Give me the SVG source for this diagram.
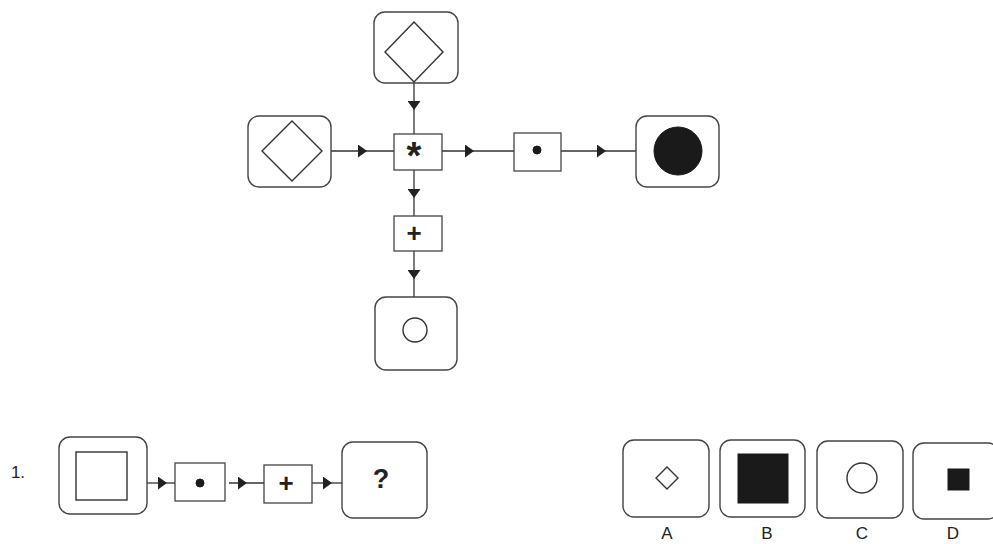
<svg xmlns="http://www.w3.org/2000/svg" width="993" height="544" viewBox="0 0 993 544">
<defs>
<marker id="ah" viewBox="0 0 9 13" refX="9" refY="6.5" markerUnits="userSpaceOnUse" markerWidth="9" markerHeight="13" orient="auto">
<path d="M0,0 L9,6.5 L0,13 z" fill="#222"/>
</marker>
<style>
.rb{fill:#fff;stroke:#444;stroke-width:1.4}
.op{fill:#fff;stroke:#444;stroke-width:1.3}
.sh{fill:none;stroke:#333;stroke-width:1.4}
.fl{fill:#1a1a1a;stroke:#1a1a1a}
.cn{fill:none;stroke:#333;stroke-width:1.3;marker-mid:url(#ah)}
.sym{font-family:"Liberation Sans",Arial,sans-serif;font-weight:bold;fill:#222;text-anchor:middle}
.lb{font-family:"Liberation Sans",Arial,sans-serif;font-size:17px;fill:#222;text-anchor:middle}
</style>
</defs>
<rect width="993" height="544" fill="#fff"/>
<g id="connectors">
<path class="cn" d="M331,151 L367,151 L394,151"/>
<path class="cn" d="M442,151 L474,151 L514,151"/>
<path class="cn" d="M561,151 L606,151 L636,151"/>
<path class="cn" d="M414,83 L414,110 L414,134"/>
<path class="cn" d="M414,170 L414,198 L414,216"/>
<path class="cn" d="M414,251 L414,279 L414,297"/>
<path class="cn" d="M147,483 L167,483 L175,483"/>
<path class="cn" d="M229,483 L247,483 L264,483"/>
<path class="cn" d="M312,483 L332,483 L342,483"/>
</g>
<g id="top-diamond">
<rect class="rb" x="374" y="12" width="84" height="71" rx="11"/>
<polygon class="sh" points="414,22 443,52 414,82 385,52"/>
</g>
<g id="left-diamond">
<rect class="rb" x="248" y="116" width="83" height="71" rx="11"/>
<polygon class="sh" points="292,121 322,151 292,181 262,151"/>
</g>
<g id="op-star">
<rect class="op" x="394" y="134" width="48" height="36"/>
<text class="sym" x="414" y="169" font-size="38">*</text>
</g>
<g id="op-dot">
<rect class="op" x="514" y="133" width="47" height="38"/>
<circle cx="537" cy="150" r="4" class="fl"/>
</g>
<g id="filled-circle">
<rect class="rb" x="636" y="116" width="83" height="71" rx="11"/>
<circle cx="678" cy="151" r="24" class="fl"/>
</g>
<g id="op-plus">
<rect class="op" x="394" y="216" width="48" height="35"/>
<text class="sym" x="414" y="242" font-size="26">+</text>
</g>
<g id="bottom-circle">
<rect class="rb" x="375" y="297" width="82" height="73" rx="11"/>
<circle cx="415" cy="330" r="12" class="sh"/>
</g>
<text class="lb" x="18" y="478" font-size="16">1.</text>
<g id="q-square">
<rect class="rb" x="59" y="437" width="88" height="77" rx="11"/>
<rect class="sh" x="76" y="452" width="51" height="48"/>
</g>
<g id="q-dot">
<rect class="op" x="175" y="463" width="50" height="38"/>
<circle cx="200" cy="483" r="4" class="fl"/>
</g>
<g id="q-plus">
<rect class="op" x="264" y="465" width="48" height="38"/>
<text class="sym" x="286" y="492" font-size="26">+</text>
</g>
<g id="q-unknown">
<rect class="rb" x="342" y="442" width="85" height="76" rx="11"/>
<text class="sym" x="381" y="488" font-size="27">?</text>
</g>
<g id="opt-A">
<rect class="rb" x="623" y="440" width="86" height="77" rx="11"/>
<polygon class="sh" points="667,467 678,478 667,489 656,478"/>
<text class="lb" x="667" y="539">A</text>
</g>
<g id="opt-B">
<rect class="rb" x="720" y="440" width="85" height="77" rx="11"/>
<rect class="fl" x="738" y="454" width="50" height="49"/>
<text class="lb" x="767" y="539">B</text>
</g>
<g id="opt-C">
<rect class="rb" x="817" y="441" width="86" height="77" rx="11"/>
<circle cx="862" cy="478" r="15" class="sh"/>
<text class="lb" x="862" y="539">C</text>
</g>
<g id="opt-D">
<rect class="rb" x="913" y="443" width="86" height="76" rx="11"/>
<rect class="fl" x="948" y="469" width="21" height="21"/>
<text class="lb" x="953" y="539">D</text>
</g>
</svg>
